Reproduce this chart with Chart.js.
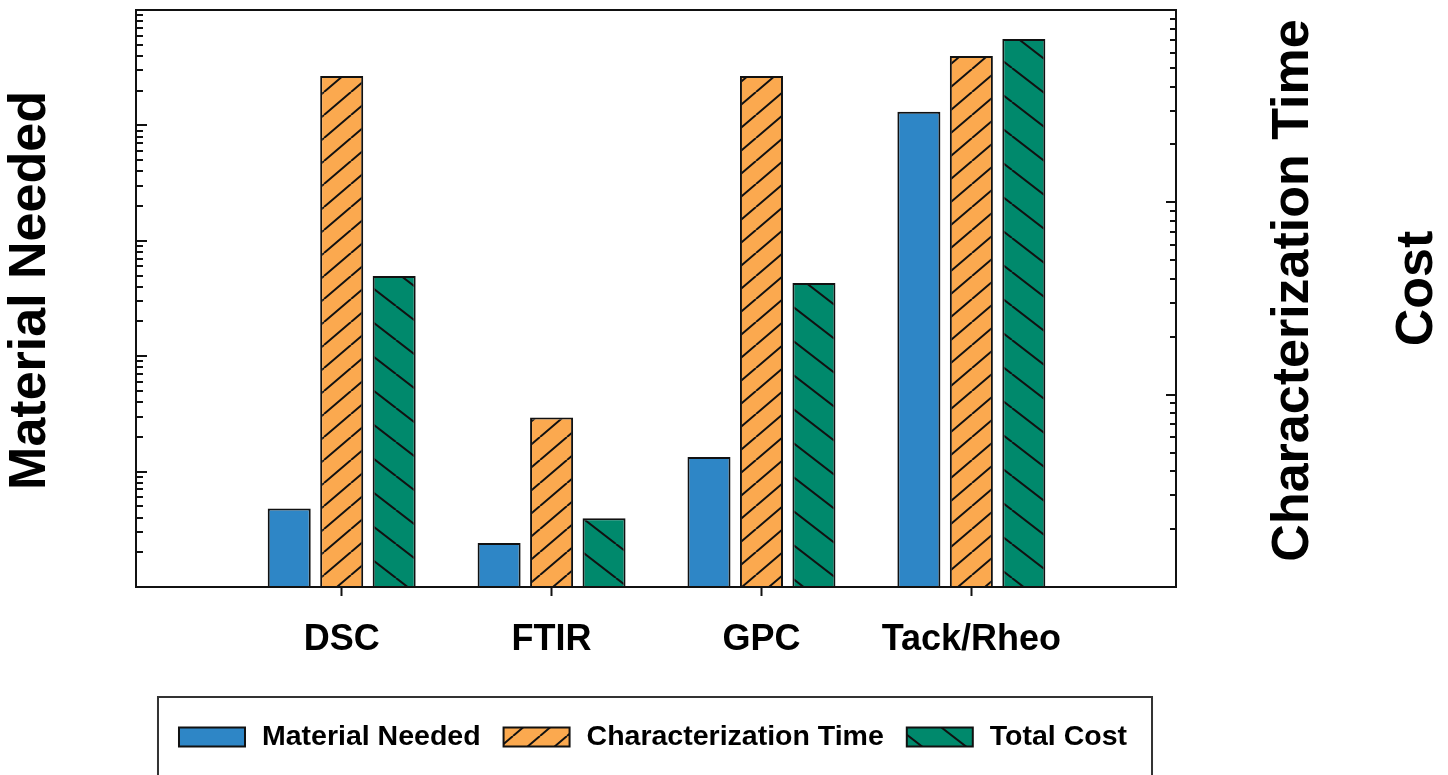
<!DOCTYPE html>
<html>
<head>
<meta charset="utf-8">
<script src="https://cdn.jsdelivr.net/npm/chart.js@4.4.1/dist/chart.umd.min.js"></script>
<style>
  html, body { margin: 0; padding: 0; background: #fff; }
  #wrap { width: 1448px; height: 775px; }
</style>
</head>
<body>
<div id="wrap"><canvas id="chart"></canvas></div>
<script>
// values (no numbers printed on the original)
const CATEGORIES = ['DSC', 'FTIR', 'GPC', 'Tack/Rheo'];
const MATERIAL_NEEDED = [4.8, 2.4, 13.4, 13150];
const CHARACTERIZATION_TIME = [454, 7.6, 454, 577];
const TOTAL_COST = [143, 3.0, 128, 6300];
const SERIES_LABELS = ['Material Needed', 'Characterization Time', 'Total Cost'];
const AXIS_TITLES = ['Material Needed', 'Characterization Time', 'Cost'];

const FONT = '"Liberation Sans", Arial, Helvetica, sans-serif';
const INK = '#111';
const COLORS = { material: '#2E86C6', time: '#FBA94F', cost: '#00896C' };

// diagonal hatch tile: 'up' = "/" lines, 'down' = "\" lines
function hatch(bg, w, h, dir) {
  const c = document.createElement('canvas');
  c.width = w; c.height = h;
  const g = c.getContext('2d');
  g.fillStyle = bg;
  g.fillRect(0, 0, w, h);
  g.strokeStyle = INK;
  g.lineWidth = 2;
  g.beginPath();
  for (const k of [-1, 0, 1]) {
    if (dir === 'up') { g.moveTo(k * w, h); g.lineTo(k * w + w, 0); }
    else { g.moveTo(k * w, 0); g.lineTo(k * w + w, h); }
  }
  g.stroke();
  return g.createPattern(c, 'repeat');
}

const fills = [
  COLORS.material,
  hatch(COLORS.time, 27, 23, 'up'),
  hatch(COLORS.cost, 44, 34, 'down'),
];

function series(values) {
  return CATEGORIES.map((c, i) => ({ x: i + 1, y: values[i] }));
}

function barSet(i, values, axis) {
  return {
    label: SERIES_LABELS[i],
    data: series(values),
    yAxisID: axis,
    backgroundColor: fills[i],
    borderColor: INK,
    borderWidth: 2,
    borderSkipped: 'start',
    categoryPercentage: 0.75,
    barPercentage: 0.82,
  };
}

function drawLogTicks(ctx, scale, x0, dir, majorLen, minorLen) {
  const lo = Math.round(Math.log10(scale.min));
  const hi = Math.round(Math.log10(scale.max));
  ctx.beginPath();
  for (let e = lo; e < hi; e++) {
    for (let m = 1; m <= 9; m++) {
      const py = Math.round(scale.getPixelForValue(m * Math.pow(10, e)));
      const len = m === 1 ? majorLen : minorLen;
      ctx.moveTo(x0, py);
      ctx.lineTo(x0 + dir * len, py);
    }
  }
  ctx.stroke();
}

const framePlugin = {
  id: 'frame',
  afterDatasetsDraw(chart) {
    const { ctx, chartArea: a, scales } = chart;
    ctx.save();
    ctx.strokeStyle = INK;
    ctx.lineWidth = 2;
    ctx.strokeRect(a.left, a.top, a.right - a.left, a.bottom - a.top);
    drawLogTicks(ctx, scales.y, a.left, 1, 11, 7);
    drawLogTicks(ctx, scales.y2, a.right, -1, 10, 6);
    ctx.restore();
  },
};

const titlesPlugin = {
  id: 'titles',
  afterDraw(chart) {
    const { ctx, chartArea: a } = chart;
    const midY = (a.top + a.bottom) / 2 - 8;
    const spots = [[a.left - 105, midY], [a.right + 118, midY], [a.right + 242, midY - 2]];
    ctx.save();
    ctx.fillStyle = '#000';
    ctx.font = 'bold 52px ' + FONT;
    ctx.textAlign = 'center';
    ctx.textBaseline = 'middle';
    AXIS_TITLES.forEach((t, i) => {
      ctx.save();
      ctx.translate(spots[i][0], spots[i][1]);
      ctx.rotate(-Math.PI / 2);
      ctx.fillText(t, 0, 0);
      ctx.restore();
    });
    ctx.restore();
  },
};

const legendPlugin = {
  id: 'boxLegend',
  afterDraw(chart) {
    const { ctx, chartArea: a } = chart;
    const sw = 66, sh = 19, gapText = 17, gapItem = 23;
    const cy = a.bottom + 150;
    ctx.save();
    ctx.font = 'bold 28.5px ' + FONT;
    const widths = SERIES_LABELS.map(t => ctx.measureText(t).width);
    const total = widths.reduce((s, w) => s + sw + gapText + w, 0) + gapItem * (widths.length - 1);
    const start = (a.left + a.right) / 2 - 3 - total / 2;

    ctx.strokeStyle = '#333';
    ctx.lineWidth = 2;
    ctx.beginPath();
    ctx.moveTo(start - 21, chart.height + 5);
    ctx.lineTo(start - 21, a.bottom + 110);
    ctx.lineTo(start + total + 25, a.bottom + 110);
    ctx.lineTo(start + total + 25, chart.height + 5);
    ctx.stroke();

    let x = start;
    ctx.textBaseline = 'middle';
    ctx.textAlign = 'left';
    SERIES_LABELS.forEach((t, i) => {
      ctx.fillStyle = fills[i];
      ctx.fillRect(x, cy - sh / 2, sw, sh);
      ctx.strokeStyle = INK;
      ctx.lineWidth = 2;
      ctx.strokeRect(x, cy - sh / 2, sw, sh);
      ctx.fillStyle = '#000';
      ctx.fillText(t, x + sw + gapText, cy);
      x += sw + gapText + widths[i] + gapItem;
    });
    ctx.restore();
  },
};

new Chart(document.getElementById('chart'), {
  type: 'bar',
  data: {
    datasets: [
      barSet(0, MATERIAL_NEEDED, 'y'),
      barSet(1, CHARACTERIZATION_TIME, 'y2'),
      barSet(2, TOTAL_COST, 'y3'),
    ],
  },
  options: {
    responsive: true,
    maintainAspectRatio: false,
    animation: false,
    layout: { padding: { left: 136, right: 272, top: 10, bottom: 108 } },
    plugins: { legend: { display: false }, tooltip: { enabled: false } },
    scales: {
      x: {
        type: 'linear',
        min: 0.02,
        max: 4.975,
        offset: false,
        afterBuildTicks: s => { s.ticks = CATEGORIES.map((c, i) => ({ value: i + 1 })); },
        afterFit: s => { s.height = 80; },
        border: { display: false },
        grid: { offset: false, drawOnChartArea: false, tickLength: 9, tickWidth: 2, tickColor: INK },
        ticks: {
          callback: v => CATEGORIES[Math.round(v) - 1] || '',
          font: { family: FONT, size: 36, weight: 'bold' },
          color: '#000',
          padding: 22,
          maxRotation: 0,
          autoSkip: false,
        },
      },
      y: { type: 'logarithmic', position: 'left', min: 1, max: 1e5, display: false },
      y2: { type: 'logarithmic', position: 'right', min: 1, max: 1e3, display: false },
      y3: { type: 'logarithmic', position: 'right', min: 1, max: 1e4, display: false },
    },
  },
  plugins: [framePlugin, titlesPlugin, legendPlugin],
});
</script>
</body>
</html>
